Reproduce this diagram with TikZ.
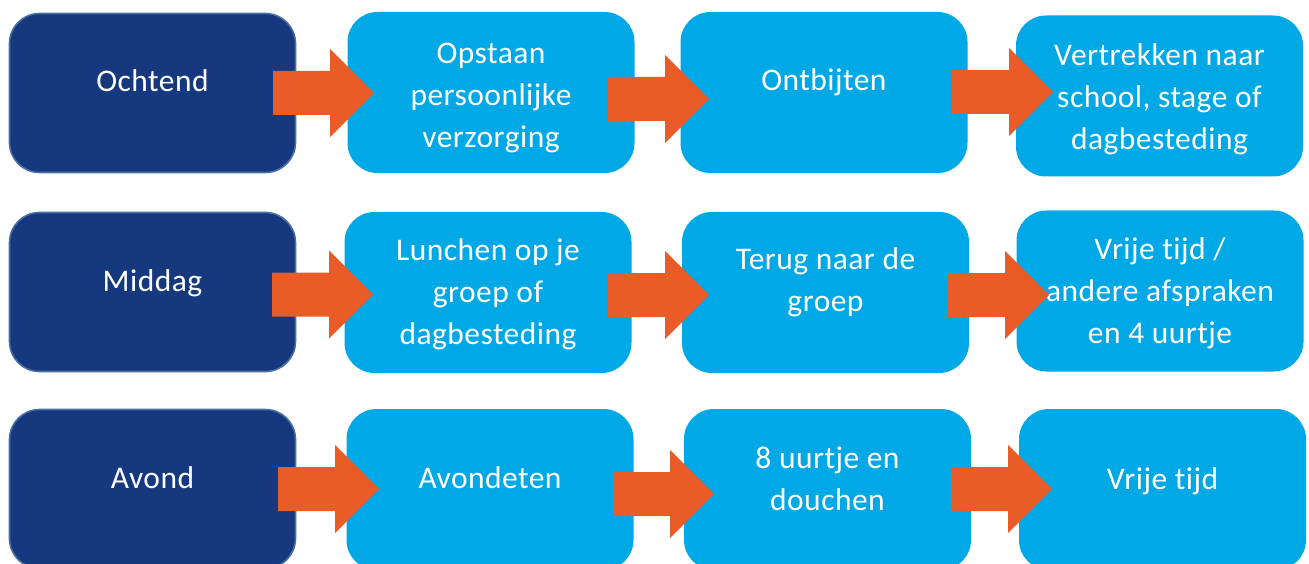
\documentclass[tikz,border=0pt]{standalone}
\usepackage{fontspec}
\setmainfont{Carlito}[Ligatures=NoCommon, LetterSpace=1.5]
\definecolor{navy}{RGB}{21,56,126}
\definecolor{navyedge}{RGB}{72,112,160}
\definecolor{sky}{RGB}{0,168,229}
\definecolor{orangefill}{RGB}{234,92,39}
\newcommand\ls{\rule[-12pt]{0pt}{42pt}}
\tikzset{
  darkbox/.style={draw=navyedge, line width=1.6pt, fill=navy, rounded corners=30pt,
    minimum width=286pt, minimum height=159pt, inner sep=0pt, outer sep=0pt},
  lightbox/.style={fill=sky, rounded corners=30pt,
    minimum width=287pt, minimum height=161pt, inner sep=0pt, outer sep=0pt},
  txt/.style={text=white, align=center, inner sep=0pt,
    font=\fontsize{31.5}{42}\selectfont},
  blockarrow/.pic={\fill[orangefill] (0,-22) -- (57,-22) -- (57,-44) -- (101,0)
    -- (57,44) -- (57,22) -- (0,22) -- cycle;}
}
\begin{document}
\begin{tikzpicture}[x=1pt,y=-1pt]
\useasboundingbox (0,0) rectangle (1309,564);
\clip (0,0) rectangle (1309,564);
% row 1
\node[darkbox] (d1) at (152.5,93) {};
\node[lightbox] (b12) at (491,92.5) {};
\node[lightbox] (b13) at (824,92.5) {};
\node[lightbox] (b14) at (1159.5,96) {};
% row 2
\node[darkbox] (d2) at (152.5,292) {};
\node[lightbox] (b22) at (488,292.5) {};
\node[lightbox] (b23) at (825.5,292.5) {};
\node[lightbox] (b24) at (1160,291) {};
% row 3
\node[darkbox] (d3) at (152.5,489) {};
\node[lightbox] (b32) at (490,489.5) {};
\node[lightbox] (b33) at (827.5,489.5) {};
\node[lightbox] (b34) at (1162.5,489.5) {};
% texts
\node[txt] (t1) at (152.5,82.5) {\ls Ochtend};
\node[txt] (t12) at (491,96.5) {\ls Opstaan\\\ls persoonlijke\\\ls verzorging};
\node[txt] (t13) at (824,81.5) {\ls Ontbijten};
\node[txt] (t14) at (1159.5,99) {\ls Vertrekken naar\\\ls school, stage of\\\ls dagbesteding};
\node[txt] (t2) at (152.5,282) {\ls Middag};
\node[txt] (t22) at (488,293.5) {\ls Lunchen op je\\\ls groep of\\\ls dagbesteding};
\node[txt] (t23) at (825.5,281) {\ls Terug naar de\\\ls groep};
\node[txt] (t24) at (1160,292) {\ls Vrije tijd /\\\ls andere afspraken\\\ls en 4 uurtje};
\node[txt] (t3) at (152.5,479) {\ls Avond};
\node[txt] (t32) at (490,479.5) {\ls Avondeten};
\node[txt] (t33) at (827.5,480) {\ls 8 uurtje en\\\ls douchen};
\node[txt] (t34) at (1162.5,480) {\ls Vrije tijd};
% arrows
\pic at (273,93) {blockarrow};
\pic at (608,99) {blockarrow};
\pic at (952,92) {blockarrow};
\pic at (272,294.5) {blockarrow};
\pic at (608,295) {blockarrow};
\pic at (948,295) {blockarrow};
\pic at (278,489) {blockarrow};
\pic at (613,494) {blockarrow};
\pic at (951,489) {blockarrow};
\end{tikzpicture}
\end{document}
